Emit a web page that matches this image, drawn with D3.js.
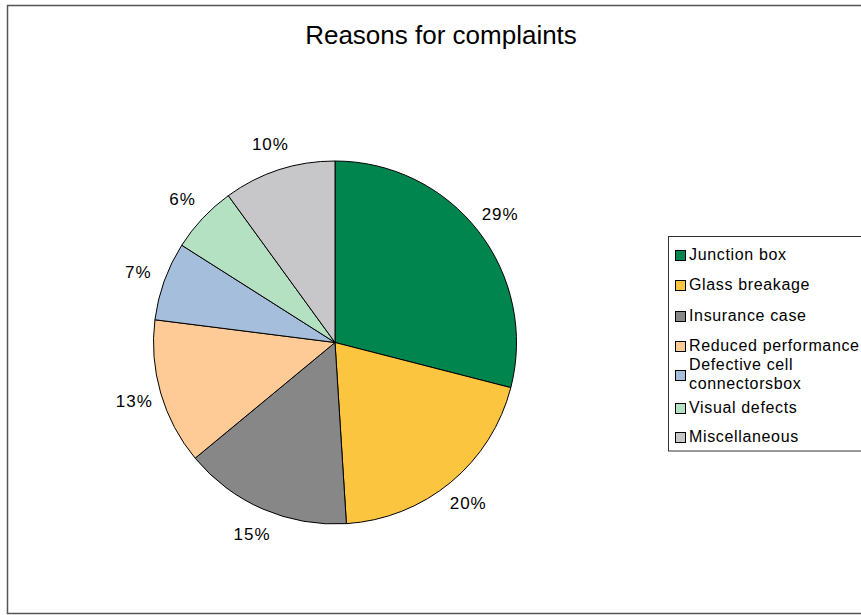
<!DOCTYPE html>
<html>
<head>
<meta charset="utf-8">
<script src="https://cdn.jsdelivr.net/npm/d3@7"></script>
<style>
  html, body { margin: 0; padding: 0; background: #fff; }
  svg { display: block; }
  text { font-family: "Liberation Sans", Arial, sans-serif; fill: #000; }
</style>
</head>
<body>
<svg id="chart" width="861" height="615"></svg>
<script>
// Complaint categories and their share (percent)
const categories = [
  "Junction box",
  "Glass breakage",
  "Insurance case",
  "Reduced performance",
  "Defective cell connectorsbox",
  "Visual defects",
  "Miscellaneous"
];
const shares = [29, 20, 15, 13, 7, 6, 10];
const legendLabels = [
  ["Junction box"],
  ["Glass breakage"],
  ["Insurance case"],
  ["Reduced performance"],
  ["Defective cell", "connectorsbox"],
  ["Visual defects"],
  ["Miscellaneous"]
];
const sliceColors = ["#00854f", "#fcc53f", "#878787", "#fecb97", "#a4bedb", "#b5e1c3", "#c7c7c9"];

const svg = d3.select("#chart");
const W = 861, H = 615;

// Outer chart frame (right edge runs off the canvas)
svg.append("path")
  .attr("d", `M${W + 5},5.5 H7.5 V613.5 H${W + 5}`)
  .attr("fill", "none")
  .attr("stroke", "#555")
  .attr("stroke-width", 1.5);

// Title
svg.append("text")
  .attr("x", 441)
  .attr("y", 44)
  .attr("text-anchor", "middle")
  .style("font-size", "26px")
  .text("Reasons for complaints");

// Pie
const cx = 335, cy = 342.5, r = 181.5;
const data = categories.map((c, i) => ({ name: c, value: shares[i], color: sliceColors[i] }));
const pie = d3.pie().value(d => d.value).sort(null);
const arcs = pie(data);
const arc = d3.arc().innerRadius(0).outerRadius(r);
const labelArc = d3.arc().innerRadius(209).outerRadius(209);

const g = svg.append("g").attr("transform", `translate(${cx},${cy})`);
g.selectAll("path.slice")
  .data(arcs)
  .join("path")
  .attr("class", "slice")
  .attr("d", arc)
  .attr("fill", d => d.data.color)
  .attr("stroke", "#000")
  .attr("stroke-width", 1)
  .attr("stroke-linejoin", "round");

const fmt = d3.format(".0%");
const total = d3.sum(shares);
g.selectAll("text.pct")
  .data(arcs)
  .join("text")
  .attr("class", "pct")
  .attr("transform", d => `translate(${labelArc.centroid(d)})`)
  .attr("text-anchor", "middle")
  .attr("dy", "0.35em")
  .style("font-size", "17px")
  .style("letter-spacing", "1px")
  .text(d => fmt(d.data.value / total));

// Legend
const lx = 668, ly = 236.5;
svg.append("rect")
  .attr("x", lx + 0.5).attr("y", ly)
  .attr("width", 220).attr("height", 214.5)
  .attr("fill", "#fff")
  .attr("stroke", "#333")
  .attr("stroke-width", 1);

const rowY = [254, 284, 315, 345, 374, 407, 436];
const leg = svg.append("g");
legendLabels.forEach((lines, i) => {
  const y = rowY[i];
  leg.append("rect")
    .attr("x", 675.5).attr("y", y - 3.5)
    .attr("width", 10).attr("height", 10)
    .attr("fill", sliceColors[i])
    .attr("stroke", "#000")
    .attr("stroke-width", 1);
  const t = leg.append("text")
    .attr("x", 689)
    .attr("y", y)
    .style("font-size", "16px")
    .style("letter-spacing", "0.65px");
  lines.forEach((ln, j) => {
    t.append("tspan")
      .attr("x", 689)
      .attr("dy", j === 0 ? (lines.length > 1 ? "-0.25em" : "0.35em") : "1.2em")
      .text(ln);
  });
});
</script>
</body>
</html>
